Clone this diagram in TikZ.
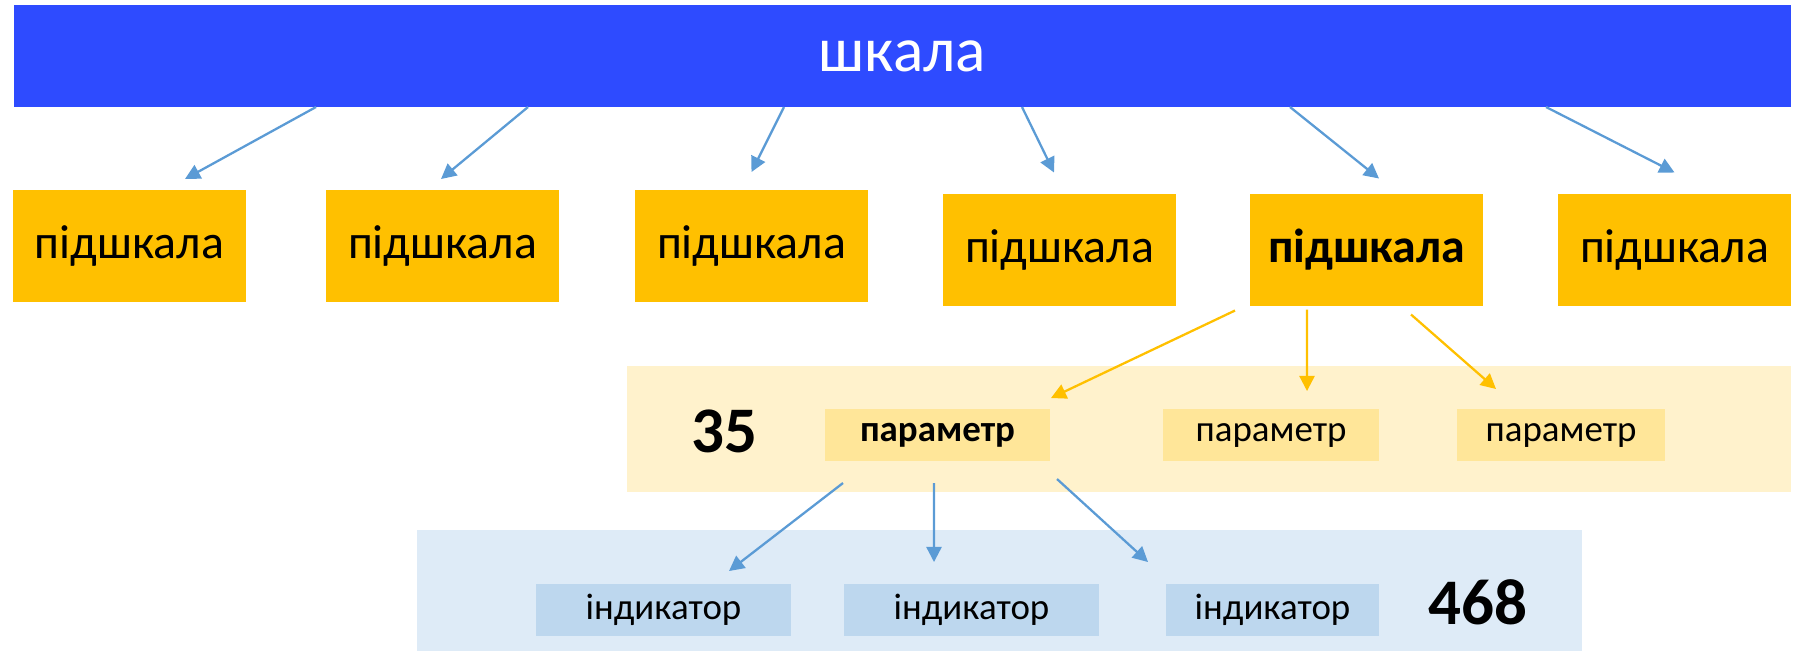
\documentclass[tikz,border=0pt]{standalone}
\usepackage{fontspec}
\setmainfont{Carlito}
\usepackage{xcolor}
\usepackage{tikz}
\usetikzlibrary{shapes,positioning,arrows.meta}
\definecolor{scaleblue}{RGB}{46, 75, 255}
\definecolor{subgold}{RGB}{255, 192, 0}
\definecolor{paramband}{RGB}{255, 242, 204}
\definecolor{paramfill}{RGB}{255, 230, 153}
\definecolor{indband}{RGB}{222, 235, 247}
\definecolor{indfill}{RGB}{189, 215, 238}
\definecolor{linkblue}{RGB}{91, 155, 213}

\begin{document}
\begin{tikzpicture}[
    topbar/.style={rectangle, fill=scaleblue, text=white, minimum width=17.77cm, minimum height=1.02cm, inner sep=0pt, outer sep=0pt, font=\fontsize{18}{22}\selectfont},
    subbox/.style={rectangle, fill=subgold, minimum width=2.33cm, minimum height=1.12cm, inner sep=0pt, outer sep=0pt, font=\fontsize{13.6}{16}\selectfont},
    band/.style={rectangle, inner sep=0pt, outer sep=0pt},
    parambox/.style={rectangle, fill=paramfill, minimum height=0.52cm, inner sep=0pt, outer sep=0pt, font=\fontsize{10.5}{12}\selectfont},
    indbox/.style={rectangle, fill=indfill, minimum height=0.52cm, inner sep=0pt, outer sep=0pt, font=\fontsize{10.5}{12}\selectfont},
    count/.style={font=\fontsize{18.5}{22}\selectfont\bfseries},
    bluearrow/.style={-{Triangle[length=4.3pt,width=4.3pt]}, linkblue, line width=0.65pt},
    goldarrow/.style={-{Triangle[length=4.3pt,width=4.3pt]}, subgold, line width=0.65pt}
]
\useasboundingbox (0,0) rectangle (18.02,-6.51);

% scale and subscales
\node[topbar] (scale) at (9.025,-0.56) {шкала};
\node[subbox] (sub1) at (1.295,-2.46) {підшкала};
\node[subbox, right=0.80cm of sub1] (sub2) {підшкала};
\node[subbox, right=0.76cm of sub2] (sub3) {підшкала};
\node[subbox, right=0.75cm of sub3, yshift=-0.035cm] (sub4) {підшкала};
\node[subbox, right=0.74cm of sub4] (sub5) {\textbf{підшкала}};
\node[subbox, right=0.75cm of sub5] (sub6) {підшкала};

% parameters
\node[band, fill=paramband, minimum width=11.64cm, minimum height=1.26cm] (pband) at (12.09,-4.29) {};
\node[count] (pcount) at (7.24,-4.31) {35};
\node[parambox, minimum width=2.25cm] (par1) at (9.375,-4.35) {\textbf{параметр}};
\node[parambox, minimum width=2.16cm, right=1.13cm of par1] (par2) {параметр};
\node[parambox, minimum width=2.08cm, right=0.78cm of par2] (par3) {параметр};

% indicators
\node[band, fill=indband, minimum width=11.65cm, minimum height=1.21cm] (iband) at (9.995,-5.905) {};
\node[indbox, minimum width=2.55cm] (ind1) at (6.635,-6.10) {індикатор};
\node[indbox, minimum width=2.55cm, right=0.53cm of ind1] (ind2) {індикатор};
\node[indbox, minimum width=2.13cm, right=0.67cm of ind2] (ind3) {індикатор};
\node[count] (icount) at (14.78,-6.02) {468};

\draw[bluearrow] ([xshift=-5.865cm]scale.south) -- ([xshift=0.555cm,yshift=0.11cm]sub1.north);
\draw[bluearrow] ([xshift=-3.745cm]scale.south) -- ([xshift=-0.015cm,yshift=0.11cm]sub2.north);
\draw[bluearrow] ([xshift=-1.185cm]scale.south) -- ([yshift=0.18cm]sub3.north);
\draw[bluearrow] ([xshift=1.195cm]scale.south) -- ([xshift=-0.055cm,yshift=0.21cm]sub4.north);
\draw[bluearrow] ([xshift=3.875cm]scale.south) -- ([xshift=0.125cm,yshift=0.15cm]sub5.north);
\draw[bluearrow] ([xshift=6.435cm]scale.south) -- ([yshift=0.21cm]sub6.north);

\draw[goldarrow] ([xshift=-1.315cm,yshift=-0.05cm]sub5.south) -- ([xshift=0.01cm,yshift=0.11cm]par1.north east);
\draw[goldarrow] ([xshift=-0.595cm,yshift=-0.04cm]sub5.south) -- ([xshift=0.36cm,yshift=0.18cm]par2.north);
\draw[goldarrow] ([xshift=0.445cm,yshift=-0.09cm]sub5.south) -- ([xshift=-0.65cm,yshift=0.20cm]par3.north);

\draw[bluearrow] ([xshift=-0.945cm,yshift=-0.22cm]par1.south) -- ([xshift=0.655cm,yshift=0.13cm]ind1.north);
\draw[bluearrow] ([xshift=-0.035cm,yshift=-0.22cm]par1.south) -- ([xshift=-0.375cm,yshift=0.22cm]ind2.north);
\draw[bluearrow] ([xshift=0.07cm,yshift=-0.18cm]par1.south east) -- ([xshift=-1.245cm,yshift=0.22cm]ind3.north);

\end{tikzpicture}
\end{document}
